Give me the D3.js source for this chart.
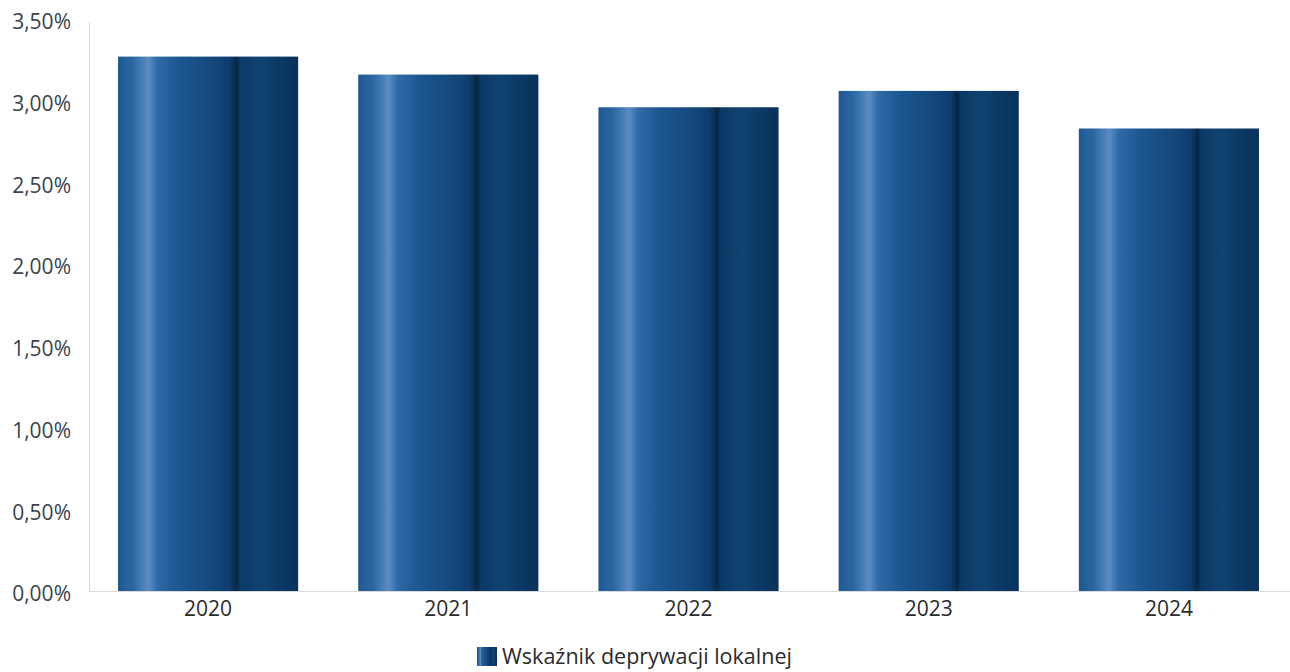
<!DOCTYPE html>
<html><head><meta charset="utf-8">
<script src="https://cdn.jsdelivr.net/npm/d3@7"></script>
<style>html,body{margin:0;padding:0;background:#fff;overflow:hidden}</style>
</head><body><svg id="c" width="1290" height="672"></svg>
<script>
const categories = ["2020","2021","2022","2023","2024"];
const values = [3.27, 3.16, 2.96, 3.06, 2.83];
const yTicks = [0, 0.5, 1, 1.5, 2, 2.5, 3, 3.5];
const seriesName = "Wskaźnik deprywacji lokalnej";

const svg = d3.select("#c");
const font = "'Open Sans', 'Noto Sans', sans-serif";
const x = d3.scaleBand().domain(categories).range([88, 1289]).paddingInner(0.25).paddingOuter(0.125);
const y = d3.scaleLinear().domain([0, 3.5]).range([591, 19]);

const defs = svg.append("defs");
const g = defs.append("linearGradient").attr("id","bar").attr("x1","0").attr("x2","1").attr("y1","0").attr("y2","0");
[[0,"#1d5892"],[0.08,"#2a67a2"],[0.17,"#5a8cc2"],[0.22,"#2f6aa6"],[0.35,"#1b5590"],[0.5,"#154a80"],[0.62,"#0e3c6c"],[0.66,"#072744"],[0.68,"#0d3a66"],[0.8,"#0f4272"],[0.92,"#0b3762"],[1,"#0a3159"]]
  .forEach(([o,c]) => g.append("stop").attr("offset",o).attr("stop-color",c));

// axes lines
svg.append("line").attr("x1",89.5).attr("x2",89.5).attr("y1",22).attr("y2",y(0)).attr("stroke","#d9d9d9");
svg.append("line").attr("x1",89).attr("x2",1290).attr("y1",y(0)+0.5).attr("y2",y(0)+0.5).attr("stroke","#d9d9d9");

// y axis labels
const yAxis = d3.axisLeft(y).tickValues(yTicks).tickSize(0).tickPadding(0)
  .tickFormat(d => d.toFixed(2).replace(".", ",") + "%");
const ya = svg.append("g").attr("transform","translate(71,3)").call(yAxis);
ya.select(".domain").remove();
ya.selectAll("text").attr("font-family",font).attr("font-size",21).attr("fill","#3a434d").attr("text-anchor","end");

// bars
svg.append("g").selectAll("rect").data(values).join("rect")
  .attr("x",(d,i)=>x(categories[i])).attr("width",x.bandwidth())
  .attr("y",d=>y(d)).attr("height",d=>y(0)-y(d))
  .attr("fill","url(#bar)");

// x axis labels
const xAxis = d3.axisBottom(x).tickSize(0).tickPadding(10);
const xa = svg.append("g").attr("transform",`translate(0,${y(0)})`).call(xAxis);
xa.select(".domain").remove();
xa.selectAll("text").attr("font-family",font).attr("font-size",21).attr("fill","#2b2b2b");

// legend
const lg = svg.append("g").attr("transform","translate(477,647)");
lg.append("rect").attr("width",20).attr("height",19).attr("fill","url(#bar)");
lg.append("text").attr("x",25).attr("y",17).attr("font-family",font).attr("font-size",21.5).attr("fill","#2b2b2b").text(seriesName);
</script></body></html>
